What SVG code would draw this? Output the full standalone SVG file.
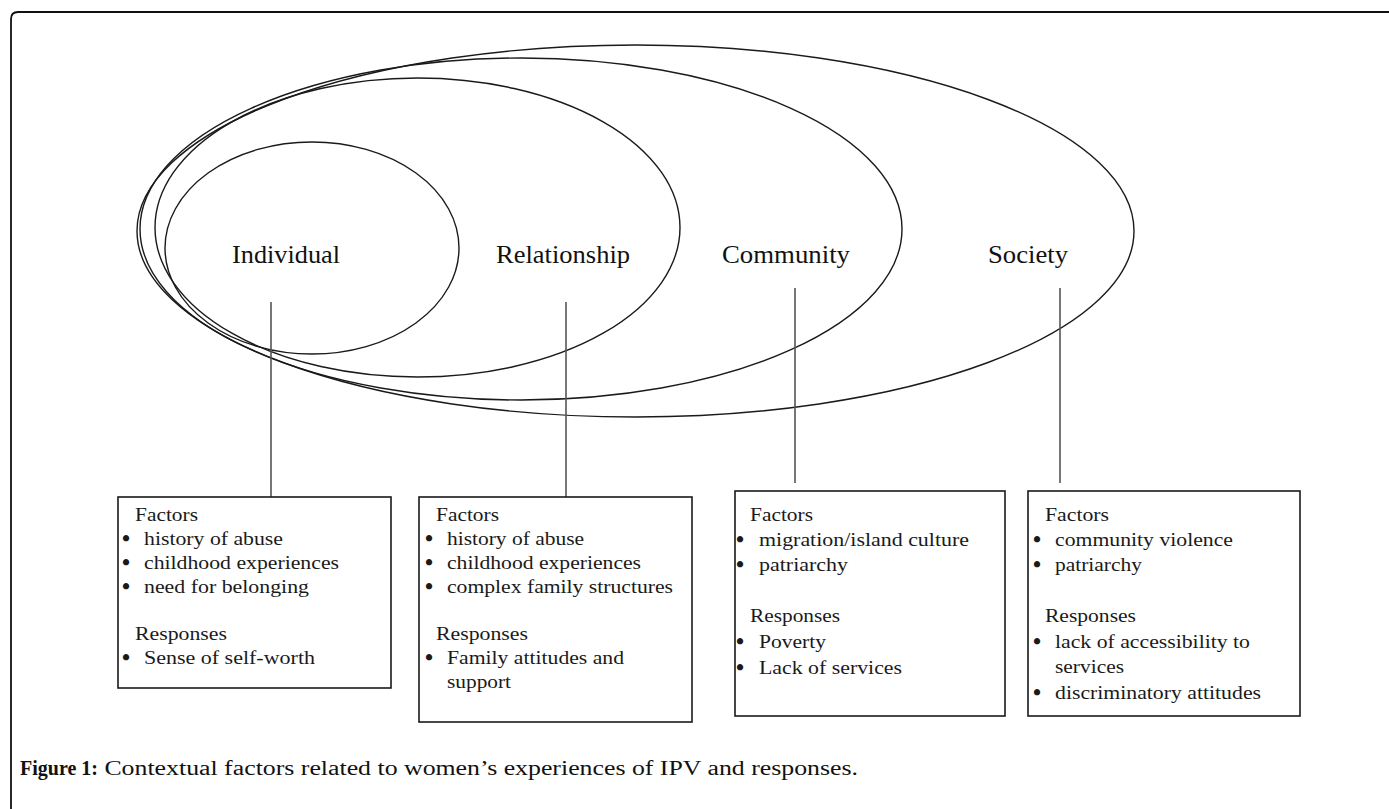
<svg xmlns="http://www.w3.org/2000/svg" width="1389" height="809" viewBox="0 0 1389 809">
<style>
.ell{fill:none;stroke:#1a1a1a;stroke-width:1.4}
.box{fill:#fff;stroke:#1a1a1a;stroke-width:1.6}
.conn{stroke:#555;stroke-width:1.6;fill:none}
.lbl{font-family:"Liberation Serif","Times New Roman",serif;font-size:26px;fill:#111}
.t{font-family:"Liberation Serif","Times New Roman",serif;font-size:19px;fill:#1a1a1a}
.b{font-family:"Liberation Serif","Times New Roman",serif;font-size:23px;font-weight:bold;fill:#1a1a1a}
.cap{font-family:"Liberation Serif","Times New Roman",serif;font-size:20px;fill:#111}
</style>
<rect width="1389" height="809" fill="#fff"/>
<path d="M11,809 L11,19 Q11,12 18,12 L1389,12" fill="none" stroke="#111" stroke-width="1.8"/>
<g id="ellipses">
<ellipse id="society-ring" class="ell" cx="635.5" cy="231" rx="498.5" ry="186"/>
<ellipse id="community-ring" class="ell" cx="521" cy="229" rx="381" ry="171"/>
<ellipse id="relationship-ring" class="ell" cx="417.5" cy="227.5" rx="262.5" ry="149.5"/>
<ellipse id="individual-ring" class="ell" cx="312" cy="248" rx="147" ry="106"/>
</g>
<g id="labels">
<text class="lbl" x="232" y="263" textLength="108" lengthAdjust="spacingAndGlyphs">Individual</text>
<text class="lbl" x="496" y="263" textLength="134" lengthAdjust="spacingAndGlyphs">Relationship</text>
<text class="lbl" x="722" y="263" textLength="128" lengthAdjust="spacingAndGlyphs">Community</text>
<text class="lbl" x="988" y="263" textLength="80" lengthAdjust="spacingAndGlyphs">Society</text>
</g>
<g id="connectors">
<line class="conn" x1="271" y1="302" x2="271" y2="497"/>
<line class="conn" x1="566" y1="302" x2="566" y2="497"/>
<line class="conn" x1="795" y1="288" x2="795" y2="483"/>
<line class="conn" x1="1060" y1="288" x2="1060" y2="483"/>
</g>
<g id="individual">
<rect class="box" x="118" y="497" width="273" height="191"/>
<text class="t" x="135" y="521" textLength="63" lengthAdjust="spacingAndGlyphs">Factors</text>
<text class="b" x="122" y="546">•</text><text class="t" x="144" y="545" textLength="139" lengthAdjust="spacingAndGlyphs">history of abuse</text>
<text class="b" x="122" y="570">•</text><text class="t" x="144" y="569" textLength="195" lengthAdjust="spacingAndGlyphs">childhood experiences</text>
<text class="b" x="122" y="594">•</text><text class="t" x="144" y="593" textLength="165" lengthAdjust="spacingAndGlyphs">need for belonging</text>
<text class="t" x="135" y="640" textLength="92" lengthAdjust="spacingAndGlyphs">Responses</text>
<text class="b" x="122" y="665">•</text><text class="t" x="144" y="664" textLength="171" lengthAdjust="spacingAndGlyphs">Sense of self-worth</text>
</g>
<g id="relationship">
<rect class="box" x="419" y="497" width="273" height="225"/>
<text class="t" x="436" y="521" textLength="63" lengthAdjust="spacingAndGlyphs">Factors</text>
<text class="b" x="425" y="546">•</text><text class="t" x="447" y="545" textLength="137" lengthAdjust="spacingAndGlyphs">history of abuse</text>
<text class="b" x="425" y="570">•</text><text class="t" x="447" y="569" textLength="194" lengthAdjust="spacingAndGlyphs">childhood experiences</text>
<text class="b" x="425" y="594">•</text><text class="t" x="447" y="593" textLength="226" lengthAdjust="spacingAndGlyphs">complex family structures</text>
<text class="t" x="436" y="640" textLength="92" lengthAdjust="spacingAndGlyphs">Responses</text>
<text class="b" x="425" y="665">•</text><text class="t" x="447" y="664" textLength="177" lengthAdjust="spacingAndGlyphs">Family attitudes and</text>
<text class="t" x="447" y="688" textLength="64" lengthAdjust="spacingAndGlyphs">support</text>
</g>
<g id="community">
<rect class="box" x="735" y="491" width="270" height="225"/>
<text class="t" x="750" y="521" textLength="63" lengthAdjust="spacingAndGlyphs">Factors</text>
<text class="b" x="736" y="547">•</text><text class="t" x="759" y="546" textLength="210" lengthAdjust="spacingAndGlyphs">migration/island culture</text>
<text class="b" x="736" y="572">•</text><text class="t" x="759" y="571" textLength="89" lengthAdjust="spacingAndGlyphs">patriarchy</text>
<text class="t" x="750" y="622" textLength="90" lengthAdjust="spacingAndGlyphs">Responses</text>
<text class="b" x="736" y="649">•</text><text class="t" x="759" y="648" textLength="67" lengthAdjust="spacingAndGlyphs">Poverty</text>
<text class="b" x="736" y="675">•</text><text class="t" x="759" y="674" textLength="143" lengthAdjust="spacingAndGlyphs">Lack of services</text>
</g>
<g id="society">
<rect class="box" x="1028" y="491" width="272" height="225"/>
<text class="t" x="1045" y="521" textLength="64" lengthAdjust="spacingAndGlyphs">Factors</text>
<text class="b" x="1033" y="547">•</text><text class="t" x="1055" y="546" textLength="178" lengthAdjust="spacingAndGlyphs">community violence</text>
<text class="b" x="1033" y="572">•</text><text class="t" x="1055" y="571" textLength="87" lengthAdjust="spacingAndGlyphs">patriarchy</text>
<text class="t" x="1045" y="622" textLength="91" lengthAdjust="spacingAndGlyphs">Responses</text>
<text class="b" x="1033" y="649">•</text><text class="t" x="1055" y="648" textLength="195" lengthAdjust="spacingAndGlyphs">lack of accessibility to</text>
<text class="t" x="1055" y="673" textLength="69" lengthAdjust="spacingAndGlyphs">services</text>
<text class="b" x="1033" y="700">•</text><text class="t" x="1055" y="699" textLength="206" lengthAdjust="spacingAndGlyphs">discriminatory attitudes</text>
</g>
<g id="caption">
<text class="cap" x="20" y="775"><tspan font-weight="bold">Figure 1:</tspan><tspan textLength="760" lengthAdjust="spacingAndGlyphs"> Contextual factors related to women’s experiences of IPV and responses.</tspan></text>
</g>
</svg>
